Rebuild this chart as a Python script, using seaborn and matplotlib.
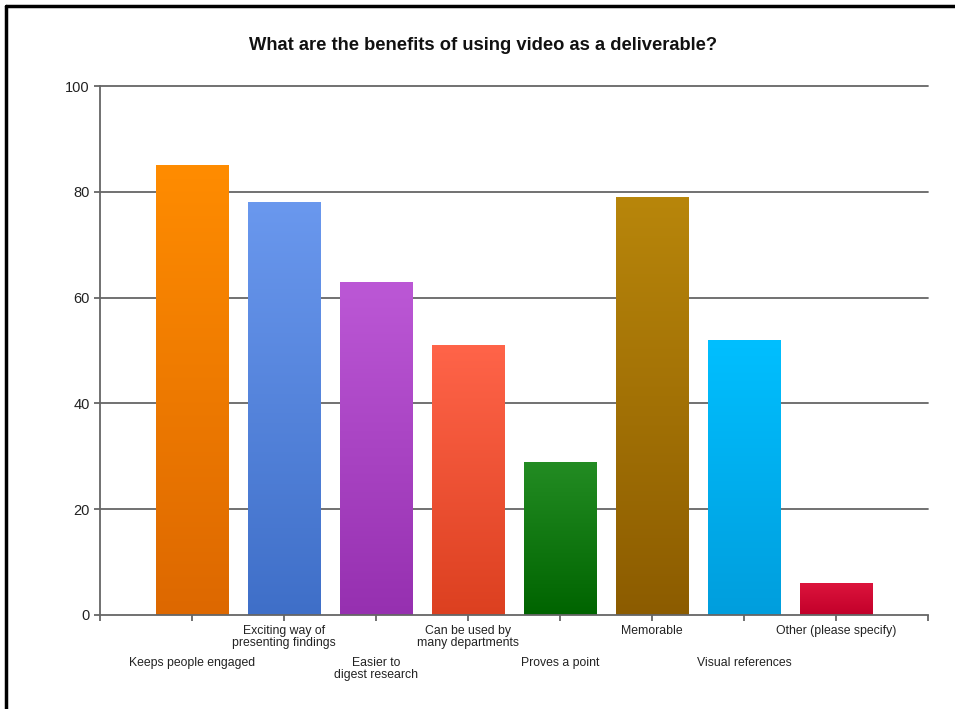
import numpy as np
import pandas as pd
import matplotlib
matplotlib.use("Agg")
import matplotlib.pyplot as plt
import seaborn as sns
from matplotlib.colors import LinearSegmentedColormap
from matplotlib.lines import Line2D

categories = ["Keeps people engaged", "Exciting way of\npresenting findings",
              "Easier to\ndigest research", "Can be used by\nmany departments",
              "Proves a point", "Memorable", "Visual references",
              "Other (please specify)"]
values = [85, 78, 63, 51, 29, 79, 52, 6]
top_colors = ["#FF8C00", "#6A98EE", "#BC58D6", "#FF6449", "#238C23", "#B8860B", "#00BFFF", "#DC143C"]
bottom_colors = ["#DD6800", "#3F6FC8", "#9630B0", "#DC4020", "#006400", "#8C5C00", "#009EDD", "#C2002A"]
y_ticks = [0, 20, 40, 60, 80, 100]
title = "What are the benefits of using video as a deliverable?"

sns.set_theme(style="white")
plt.rcParams['font.family'] = ['Liberation Sans', 'DejaVu Sans']

df = pd.DataFrame({"cat": categories, "val": values})

fig = plt.figure(figsize=(9.55, 7.09), dpi=100)
ax = fig.add_axes([100/955, 1-615/709, (928-100)/955, (615-86)/709])

sns.barplot(data=df, x="cat", y="val", hue="cat", palette=top_colors,
            width=0.79, legend=False, ax=ax, saturation=1, edgecolor="none")

# gradient fill clipped to each bar
for patch, c1, c2 in zip(ax.patches, top_colors, bottom_colors):
    x0, y0 = patch.get_x(), patch.get_y()
    w, h = patch.get_width(), patch.get_height()
    cmap = LinearSegmentedColormap.from_list("g", [c2, c1])
    grad = np.linspace(0, 1, 256).reshape(-1, 1)
    im = ax.imshow(grad, cmap=cmap, origin="lower", aspect="auto",
                   extent=[x0, x0 + w, y0, y0 + h], zorder=patch.get_zorder() + 0.1)
    im.set_clip_path(patch)

ax.set_xlim(-1, len(categories))
ax.set_ylim(0, 100)
ax.set_yticks(y_ticks)
ax.set_yticklabels([str(t) for t in y_ticks], fontsize=10.5, color="#222222")
ax.set_xticks(range(-1, len(categories) + 1))
ax.set_xticklabels([])
ax.set_xlabel("")
ax.set_ylabel("")

grid_color = "#666666"
for t in y_ticks[1:]:
    ax.axhline(t, color=grid_color, lw=1.3, zorder=0.5, clip_on=False)
for s in ["top", "right"]:
    ax.spines[s].set_visible(False)
for s in ["left", "bottom"]:
    ax.spines[s].set_color(grid_color)
    ax.spines[s].set_linewidth(1.3)
ax.tick_params(axis="x", which="both", direction="out", length=4.5, width=1.3,
               color=grid_color, bottom=True, pad=2)
ax.tick_params(axis="y", which="both", direction="out", length=4.5, width=1.3,
               color=grid_color, left=True, pad=3)

for i, lab in enumerate(categories):
    off = -7 if i % 2 == 1 else -30
    ax.annotate(lab, xy=(i, 0), xycoords=("data", "axes fraction"),
                xytext=(0, off), textcoords="offset points", ha="center", va="top",
                fontsize=8.8, color="#222222", linespacing=1.05, annotation_clip=False)

fig.text(0.506, 1-45/709, title, ha="center", va="center", fontsize=13.2,
         fontweight="bold", color="#111111")

# figure frame (top and left edges)
fig.add_artist(Line2D([6/955, 6/955], [0, 1-6/709], transform=fig.transFigure,
                      color="black", lw=2.5))
fig.add_artist(Line2D([6/955, 1], [1-6/709, 1-6/709], transform=fig.transFigure,
                      color="black", lw=2.5))

fig.savefig("out.png", dpi=100)
